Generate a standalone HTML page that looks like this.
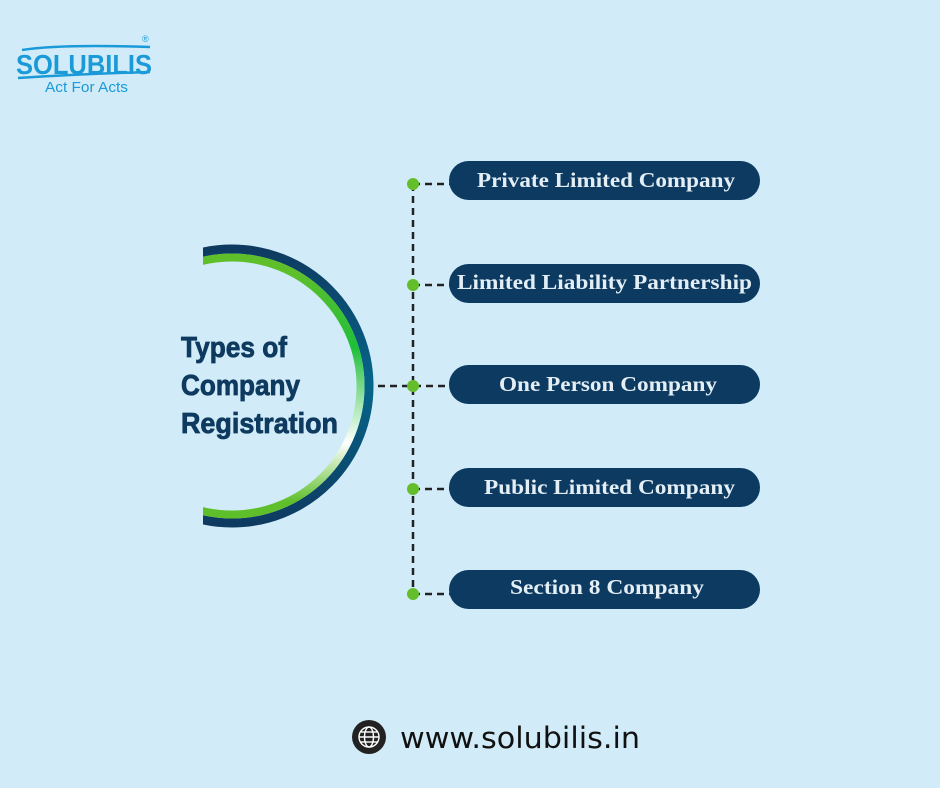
<!DOCTYPE html>
<html><head><meta charset="utf-8"><style>
html,body{margin:0;padding:0;background:#d1ecf8;}
svg{display:block}
</style></head><body>
<svg width="940" height="788" viewBox="0 0 940 788" xmlns="http://www.w3.org/2000/svg">
<defs>
<linearGradient id="g" x1="0" y1="0" x2="0" y2="1">
<stop offset="0.05" stop-color="#5fbf2a"/><stop offset="0.35" stop-color="#1fbf3a"/><stop offset="0.72" stop-color="#ffffff"/><stop offset="0.95" stop-color="#5fbf2a"/>
</linearGradient>
<linearGradient id="d" x1="0" y1="0" x2="0" y2="1">
<stop offset="0" stop-color="#0e3a60"/><stop offset="0.5" stop-color="#06668a"/><stop offset="1" stop-color="#0e3a60"/>
</linearGradient>
<clipPath id="c"><rect x="203" y="0" width="400" height="788"/></clipPath>
</defs>
<rect width="940" height="788" fill="#d1ecf8"/>
<!-- logo -->
<text x="16" y="74" font-family="Liberation Sans, sans-serif" font-size="28" font-weight="bold" fill="#1a9ad8" textLength="136" lengthAdjust="spacingAndGlyphs">SOLUBILIS</text>
<path d="M22 50 Q60 44 150 47" stroke="#1a9ad8" stroke-width="2.5" fill="none"/>
<path d="M18 78 Q80 74 150 72" stroke="#1a9ad8" stroke-width="2.5" fill="none"/>
<text x="142" y="42" font-family="Liberation Sans, sans-serif" font-size="9" fill="#1a9ad8">®</text>
<text x="45" y="92" font-family="Liberation Sans, sans-serif" font-size="15" fill="#1a9ad8" textLength="83" lengthAdjust="spacingAndGlyphs">Act For Acts</text>
<!-- arc -->
<g clip-path="url(#c)">
<circle cx="232" cy="386" r="137" stroke="url(#d)" stroke-width="9" fill="none"/>
<circle cx="232" cy="386" r="128.5" stroke="url(#g)" stroke-width="8" fill="none"/>
</g>
<g font-family="Liberation Sans, sans-serif" font-size="29" font-weight="bold" fill="#0e3a60" stroke="#0e3a60" stroke-width="0.8">
<text x="181" y="357" textLength="106" lengthAdjust="spacingAndGlyphs">Types of</text>
<text x="181" y="395" textLength="119" lengthAdjust="spacingAndGlyphs">Company</text>
<text x="181" y="433" textLength="157" lengthAdjust="spacingAndGlyphs">Registration</text>
</g>
<!-- connectors -->
<g stroke="#222" stroke-width="2.5" stroke-dasharray="7,5" fill="none">
<line x1="413" y1="184" x2="413" y2="598"/>
<line x1="413" y1="184" x2="452" y2="184"/>
<line x1="413" y1="285" x2="452" y2="285"/>
<line x1="378" y1="386" x2="452" y2="386"/>
<line x1="413" y1="489" x2="452" y2="489"/>
<line x1="413" y1="594" x2="452" y2="594"/>
</g>
<g fill="#64be2a">
<circle cx="413" cy="184" r="6"/><circle cx="413" cy="285" r="6"/><circle cx="413" cy="386" r="6"/><circle cx="413" cy="489" r="6"/><circle cx="413" cy="594" r="6"/>
</g>
<g fill="#0c3a61">
<rect x="449" y="161" width="311" height="39" rx="19.5"/>
<rect x="449" y="264" width="311" height="39" rx="19.5"/>
<rect x="449" y="365" width="311" height="39" rx="19.5"/>
<rect x="449" y="468" width="311" height="39" rx="19.5"/>
<rect x="449" y="570" width="311" height="39" rx="19.5"/>
</g>
<g font-family="Liberation Serif, serif" font-size="21" font-weight="bold" fill="#e4eef5">
<text x="477" y="187" textLength="258" lengthAdjust="spacingAndGlyphs">Private Limited Company</text>
<text x="457" y="289" textLength="295" lengthAdjust="spacingAndGlyphs">Limited Liability Partnership</text>
<text x="499" y="391" textLength="218" lengthAdjust="spacingAndGlyphs">One Person Company</text>
<text x="484" y="494" textLength="251" lengthAdjust="spacingAndGlyphs">Public Limited Company</text>
<text x="510" y="594" textLength="194" lengthAdjust="spacingAndGlyphs">Section 8 Company</text>
</g>
<!-- footer -->
<circle cx="369" cy="737" r="17" fill="#222"/>
<g stroke="#fff" stroke-width="1.4" fill="none">
<circle cx="369" cy="737" r="10"/>
<ellipse cx="369" cy="737" rx="4.5" ry="10"/>
<line x1="359" y1="737" x2="379" y2="737"/>
<line x1="361" y1="732" x2="377" y2="732"/>
<line x1="361" y1="742" x2="377" y2="742"/>
</g>
<text x="400" y="748" font-family="DejaVu Sans, sans-serif" font-size="29" fill="#111" textLength="240" lengthAdjust="spacingAndGlyphs">www.solubilis.in</text>
</svg>
</body></html>
